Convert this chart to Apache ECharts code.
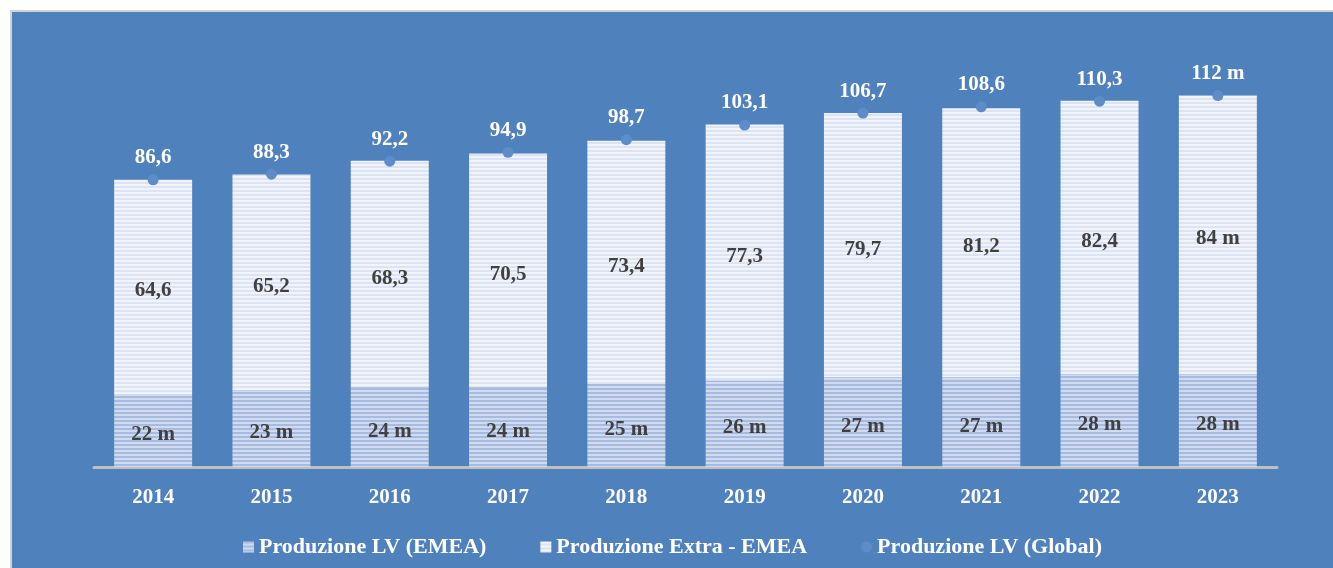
<!DOCTYPE html>
<html>
<head>
<meta charset="utf-8">
<script src="https://cdn.jsdelivr.net/npm/echarts@6/dist/echarts.min.js"></script>
<style>
  html, body { margin: 0; padding: 0; background: #ffffff; width: 1333px; height: 568px; overflow: hidden; }
  #frame {
    position: absolute; left: 10px; top: 10px;
    width: 1321px; height: 556px;
    border-top: 2px solid #d2d2d2; border-left: 2px solid #d2d2d2;
  }
  #chart { width: 1321px; height: 556px; }
</style>
</head>
<body>
<div id="frame"><div id="chart"></div></div>
<script>
// Categories and series values
const years = ['2014', '2015', '2016', '2017', '2018', '2019', '2020', '2021', '2022', '2023'];
const emea = [22, 23, 24, 24, 25, 26, 27, 27, 28, 28];
const extraEmea = [64.6, 65.2, 68.3, 70.5, 73.4, 77.3, 79.7, 81.2, 82.4, 84];
const globalTotal = [86.6, 88.3, 92.2, 94.9, 98.7, 103.1, 106.7, 108.6, 110.3, 112];

const seriesNames = ['Produzione LV (EMEA)', 'Produzione Extra - EMEA', 'Produzione LV (Global)'];

const FONT = '"Liberation Serif", "DejaVu Serif", serif';
const BG = '#4f81bd';

// Horizontal line fill used for the bar segments
function stripes(colors, rowHeights) {
  const total = rowHeights.reduce((a, b) => a + b, 0);
  const c = document.createElement('canvas');
  c.width = 4; c.height = total;
  const ctx = c.getContext('2d');
  let y = 0;
  colors.forEach((col, i) => {
    ctx.fillStyle = col;
    ctx.fillRect(0, y, 4, rowHeights[i]);
    y += rowHeights[i];
  });
  return { image: c, repeat: 'repeat' };
}

const emeaFill = stripes(['#a7badf', '#d0dbef'], [2, 2]);
const extraFill = stripes(['#f1f4fa', '#dce3f2'], [2, 2]);

function fmt(v) {
  return Number.isInteger(v) ? v + ' m' : String(v).replace('.', ',');
}

const chart = echarts.init(document.getElementById('chart'), null, { renderer: 'canvas' });

const barLabel = {
  show: true, position: 'inside', offset: [0, 4],
  color: '#404040', fontFamily: FONT, fontWeight: 'bold', fontSize: 21,
  formatter: p => fmt(p.value)
};

chart.setOption({
  backgroundColor: BG,
  animation: false,
  textStyle: { fontFamily: FONT },
  grid: { left: 82, right: 56, top: 57, bottom: 101, containLabel: false },
  legend: {
    bottom: 5,
    left: 'center',
    itemWidth: 11,
    itemHeight: 11,
    itemGap: 54,
    textStyle: { color: '#ffffff', fontFamily: FONT, fontWeight: 'bold', fontSize: 22 },
    data: [
      { name: seriesNames[0], icon: 'rect' },
      { name: seriesNames[1], icon: 'rect' },
      { name: seriesNames[2], icon: 'circle', itemStyle: { color: '#5e8cc8' } }
    ]
  },
  xAxis: {
    type: 'category',
    data: years,
    axisTick: { show: false },
    axisLine: { lineStyle: { color: '#bfbfbf', width: 3 } },
    axisLabel: { color: '#ffffff', fontFamily: FONT, fontWeight: 'bold', fontSize: 21, margin: 20 }
  },
  yAxis: {
    type: 'value',
    min: 0,
    max: 120,
    show: false,
    splitLine: { show: false }
  },
  series: [
    {
      name: seriesNames[0],
      type: 'bar',
      stack: 'lv',
      barWidth: 78,
      data: emea,
      itemStyle: { color: emeaFill },
      label: barLabel
    },
    {
      name: seriesNames[1],
      type: 'bar',
      stack: 'lv',
      barWidth: 78,
      data: extraEmea,
      itemStyle: { color: extraFill },
      label: barLabel
    },
    {
      name: seriesNames[2],
      type: 'line',
      data: globalTotal,
      symbol: 'circle',
      symbolSize: 11,
      lineStyle: { opacity: 0 },
      itemStyle: { color: '#5e8cc8' },
      z: 5,
      label: {
        show: true, position: 'top', distance: 6,
        color: '#ffffff', fontFamily: FONT, fontWeight: 'bold', fontSize: 21,
        formatter: p => fmt(p.value)
      }
    }
  ]
});
</script>
</body>
</html>
